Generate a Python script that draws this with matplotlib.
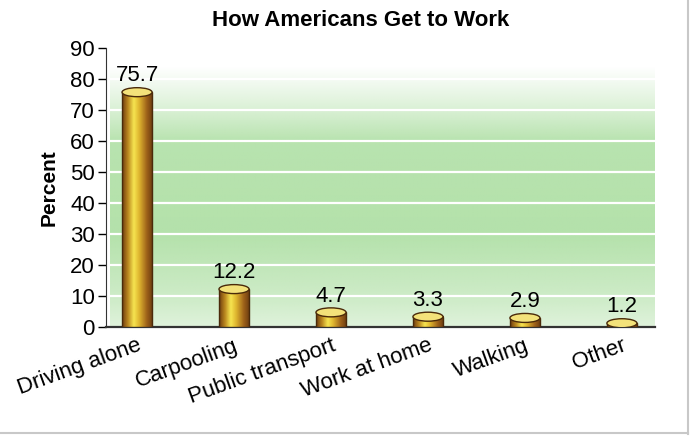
import numpy as np
import matplotlib
matplotlib.use("Agg")
import matplotlib.pyplot as plt
from matplotlib.colors import LinearSegmentedColormap
from matplotlib.patches import Ellipse, Rectangle
from matplotlib.lines import Line2D
import matplotlib.transforms as mtrans

plt.rcParams['font.family'] = ['Liberation Sans', 'DejaVu Sans']

# data
modes = ['Driving alone', 'Carpooling', 'Public transport', 'Work at home', 'Walking', 'Other']
percent = [75.7, 12.2, 4.7, 3.3, 2.9, 1.2]
yticks = [0, 10, 20, 30, 40, 50, 60, 70, 80, 90]

fig = plt.figure(figsize=(6.93, 4.43), dpi=100)
ax = fig.add_axes([0.153, 0.262, 0.792, 0.630])

x = np.arange(len(modes))
xmin, xmax = -0.32, 5.34

# green gradient background
ys = np.linspace(0, 85, 200)
alpha = np.interp(ys, [0, 8, 30, 60, 72, 84], [0.4, 0.6, 0.95, 0.9, 0.4, 0.0])
green = np.array([176, 224, 166]) / 255.0
bg = np.ones((len(ys), 2, 4))
bg[:, :, :3] = green
bg[:, :, 3] = alpha[:, None]
ax.imshow(bg, extent=[xmin + 0.04, xmax, 0, 85], origin='lower', aspect='auto',
          interpolation='bilinear', zorder=0)
for g in yticks[1:9]:
    ax.plot([xmin + 0.04, xmax], [g, g], color='white', lw=1.6, zorder=1)

# cylinder bars
bar_cmap = LinearSegmentedColormap.from_list(
    'gold', [(0.0, '#6e3c10'), (0.18, '#b8841e'), (0.38, '#f6e450'),
             (0.55, '#e0b830'), (0.8, '#a0641a'), (1.0, '#6a3a10')])
grad = bar_cmap(np.linspace(0, 1, 64))[None, :, :]
w = 0.31
eh = 2.9
for xi, v in zip(x, percent):
    ax.imshow(grad, extent=[xi - w / 2, xi + w / 2, 0, v], aspect='auto',
              interpolation='bilinear', zorder=3)
    ax.add_patch(Rectangle((xi - w / 2, 0), w, v, fill=False, ec='#4a2a0a', lw=1.0, zorder=4))
    ax.add_patch(Ellipse((xi, v), w, eh, fc='#f3e27a', ec='#4a2a0a', lw=1.0, zorder=5))
    ax.text(xi, v + eh / 2 + 0.4, f'{v}', ha='center', va='bottom', fontsize=16, zorder=6)

ax.set_xlim(xmin, xmax)
ax.set_ylim(0, 90)
ax.set_yticks(yticks)
ax.set_xticks(x)
ax.set_xticklabels(modes, rotation=20, ha='right', rotation_mode='anchor', fontsize=16)
offset = mtrans.ScaledTranslation(10 / 100, 0, fig.dpi_scale_trans)
for lab in ax.get_xticklabels():
    lab.set_transform(lab.get_transform() + offset)
ax.tick_params(axis='x', length=0, pad=6)
ax.tick_params(axis='y', length=6, width=1, labelsize=16, pad=2)
ax.spines['top'].set_visible(False)
ax.spines['right'].set_visible(False)
ax.spines['left'].set_color('#333333')
ax.spines['bottom'].set_color('#333333')
ax.spines['bottom'].set_linewidth(1.6)
ax.set_facecolor('none')

ax.set_ylabel('Percent', fontsize=15, fontweight='bold', labelpad=8)
fig.text(0.52, 0.953, 'How Americans Get to Work', ha='center', va='center',
         fontsize=16, fontweight='bold')

# page border lines
fig.add_artist(Line2D([0.993, 0.993], [0.02, 1.0], color='#c8c8c8', lw=1.5))
fig.add_artist(Line2D([0.0, 0.993], [0.022, 0.022], color='#c8c8c8', lw=1.5))

fig.savefig('out.png', dpi=100)
